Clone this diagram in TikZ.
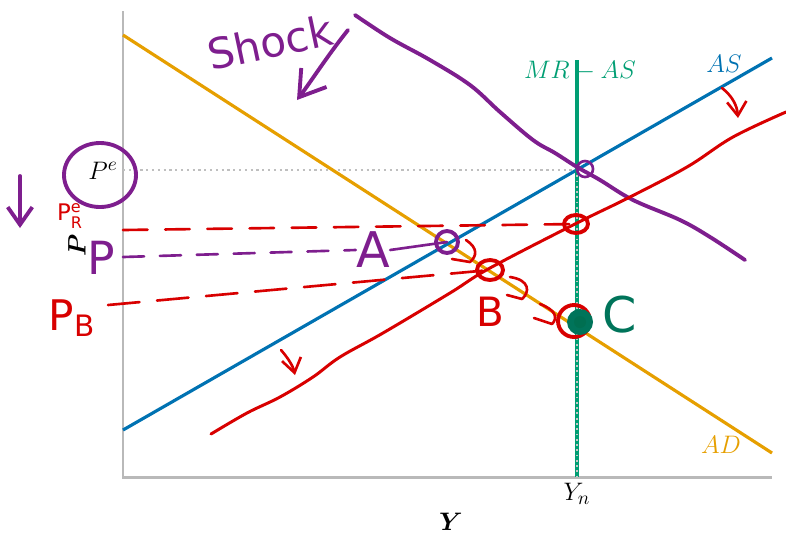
\documentclass[tikz,border=0pt]{standalone}
\usepackage{amsmath,amssymb}
\usepackage{fontspec}
\newfontfamily\handfont{DejaVu Sans}
\usetikzlibrary{arrows.meta,positioning}

\definecolor{adorange}{HTML}{E69F00}
\definecolor{asblue}{HTML}{0072B2}
\definecolor{mrgreen}{HTML}{009E73}
\definecolor{penpurple}{HTML}{7E1E8E}
\definecolor{penred}{HTML}{D80000}
\definecolor{pengreen}{HTML}{00745A}

\tikzset{
  axisline/.style={draw=gray!55, line width=1.7pt},
  curveline/.style={line width=1.8pt},
  lbl/.style={font=\fontsize{15}{18}\selectfont, inner sep=0pt},
  pen/.style={line width=2.2pt, line cap=round, line join=round},
  penthin/.style={line width=1.5pt, line cap=round, line join=round},
  hand/.style={font=\handfont\fontsize{#1}{#1}\selectfont, inner sep=0pt},
  hand/.default=24
}

\begin{document}
\begin{tikzpicture}[x=0.02cm, y=-0.02cm]
  \useasboundingbox (0,0) rectangle (786,535);

  % axes
  \draw[axisline] (123,11) -- (123,477) -- (772,477);
  \node[lbl] (ylab) at (451,522) {$\boldsymbol{Y}$};
  \node[lbl, rotate=90] (plab) at (77,245) {$\boldsymbol{P}$};
  \node[lbl] (yn) at (577,494) {$Y_n$};

  % expected price level
  \coordinate (E) at (577,170);
  \node[lbl] (pe) at (103,171) {$P^e$};
  \draw[gray!50, line width=1.3pt, dotted] (123,170) -- (E);

  % curves
  \draw[curveline, adorange] (123,35) -- (772,453);
  \node[lbl, adorange] (adlab) at (721,445) {$AD$};
  \draw[curveline, asblue] (123,430) -- (772,58);
  \node[lbl, asblue] (aslab) at (724,64) {$AS$};
  \draw[curveline, mrgreen] (577,60) -- (577,477);
  \draw[gray!45, line width=1pt, dotted] (E) -- (577,477);
  \node[lbl, mrgreen] (mrlab) at (580,71) {$MR-AS$};

  % hand notes: demand shock
  \draw[pen, penpurple] plot[smooth, tension=0.6] coordinates {
    (355,15) (390,38) (430,60) (470,85) (500,112) (533,140) (555,153)
    (577,167) (600,180) (633,200) (680,220) (710,237) (745,260)};
  \draw[penthin, penpurple] (585,169) ellipse (8 and 8);
  \node[hand=24, penpurple, rotate=12] (shock) at (270,42) {Shock};
  \draw[pen, penpurple, -{Straight Barb[length=14pt, width=18pt]}]
    (348,30) .. controls (328,55) and (312,80) .. (297,100);
  \draw[pen, penpurple] (100,175) ellipse (36 and 32);
  \draw[pen, penpurple, -{Straight Barb[length=10pt, width=14pt]}] (20,176) -- (20,228);
  \node[hand=26, penpurple] (pA) at (101,258) {P};

  % point A
  \coordinate (A) at (447,242);
  \node[hand=28, penpurple] (alab) at (373,250) {A};
  \draw[penthin, penpurple, dash pattern=on 12pt off 9pt] (123,257) -- (alab.west);
  \draw[penthin, penpurple] (alab.east) -- (A);
  \draw[pen, penpurple] (A) circle (11);

  % hand notes: supply shift
  \draw[pen, penred, line width=1.7pt] plot[smooth, tension=0.6] coordinates {
    (211,434) (247,413) (280,397) (313,377) (340,357) (383,333) (450,293)
    (490,268) (577,223) (628,198) (687,167) (733,137) (786,112)};
  \draw[penthin, penred, -{Straight Barb[length=8pt, width=11pt]}]
    (722,88) .. controls (732,96) and (737,105) .. (738,118);
  \draw[penthin, penred, -{Straight Barb[length=8pt, width=11pt]}]
    (281,350) .. controls (288,358) and (293,366) .. (295,375);

  % new expected price
  \coordinate (R) at (576,224);
  \node[hand=13, penred] (prlab) at (70,216) {P$^{\text{e}}_{\text{R}}$};
  \draw[penthin, penred, dash pattern=on 14pt off 10pt] (123,230) -- (R);
  \draw[pen, penred] (R) ellipse (12 and 9);

  % point B
  \coordinate (B) at (490,270);
  \node[hand=24, penred] (pblab) at (72,318) {P$_{\text{B}}$};
  \draw[penthin, penred, dash pattern=on 18pt off 10pt] (108,305) -- (B);
  \draw[pen, penred] (B) ellipse (13 and 10);
  \node[hand=23, penred] (blab) at (490,312) {B};

  % adjustment along AD
  \draw[penthin, penred] (466,240) .. controls (478,248) and (477,256) .. (470,262) -- (452,259);
  \draw[penthin, penred] (510,277) .. controls (530,280) and (530,292) .. (522,299) -- (507,295);
  \draw[penthin, penred] (540,304) .. controls (556,310) and (558,318) .. (552,324) -- (534,318);

  % point C
  \coordinate (C) at (580,322);
  \draw[pen, penred] (574,321) circle (16);
  \fill[pengreen] (C) circle (13);
  \fill[mrgreen!70!black] (C) circle (6);
  \node[hand=28, pengreen] (clab) at (620,315) {C};
\end{tikzpicture}
\end{document}
